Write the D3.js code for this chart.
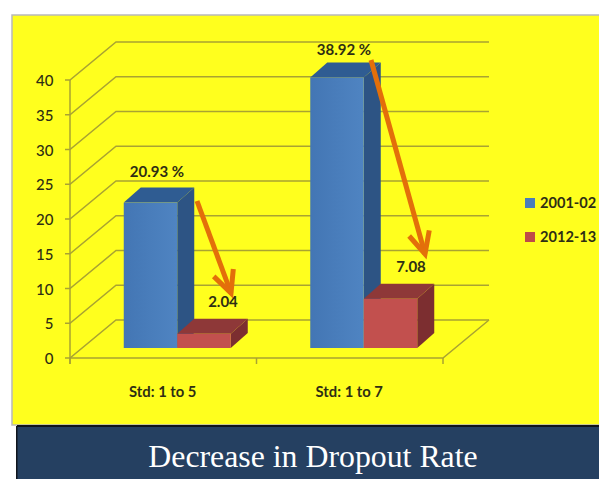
<!DOCTYPE html>
<html>
<head>
<meta charset="utf-8">
<script src="https://cdn.jsdelivr.net/npm/d3@7"></script>
<style>
html,body{margin:0;padding:0;background:#fff;}
svg{display:block;}
</style>
</head>
<body>
<svg id="chart" width="599" height="479"></svg>
<script>
const categories = ["Std: 1 to 5", "Std: 1 to 7"];
const seriesNames = ["2001-02", "2012-13"];
const values2001 = [20.93, 38.92];
const values2012 = [2.04, 7.08];
const labels2001 = ["20.93 %", "38.92 %"];
const labels2012 = ["2.04", "7.08"];
const yTicks = [0, 5, 10, 15, 20, 25, 30, 35, 40];
const titleText = "Decrease in Dropout Rate";

const svg = d3.select("#chart");
const defs = svg.append("defs");
const labelFont = "Lato, 'Open Sans', sans-serif";
const inkColor = "#2e2e14";
const gridColor = "#a9a332";
const frontColors = ["url(#blueFront)", "#c2504e"];
const topColors = ["#2f5c92", "#8e3838"];
const sideColors = ["#2d5484", "#7c2e30"];
const legendColors = ["#4a7ebb", "#be4b48"];

const blueGrad = defs.append("linearGradient").attr("id", "blueFront");
blueGrad.append("stop").attr("offset", "0%").attr("stop-color", "#4376b4");
blueGrad.append("stop").attr("offset", "100%").attr("stop-color", "#4f84c2");

// Panel and caption band
svg.append("rect").attr("x", 12).attr("y", 15).attr("width", 588).attr("height", 410)
  .attr("fill", "#ffff1e").attr("stroke", "#b9b9b9").attr("stroke-width", 1.5);
svg.append("rect").attr("x", 17).attr("y", 426).attr("width", 582).attr("height", 53)
  .attr("fill", "#254061");
svg.append("line").attr("x1", 17).attr("x2", 599).attr("y1", 426).attr("y2", 426)
  .attr("stroke", "#10141c").attr("stroke-width", 2);
svg.append("rect").attr("x", 16).attr("y", 426).attr("width", 1.5).attr("height", 53).attr("fill", "#10141c");
svg.append("text").attr("x", 313).attr("y", 467).attr("text-anchor", "middle")
  .attr("font-family", "'Liberation Serif', serif").attr("font-size", 31.8).attr("fill", "#fff")
  .text(titleText);

// Scales: y maps values on the front wall edge, depth shifts them to the back wall
const y = d3.scaleLinear().domain([0, 40]).range([358, 80]);
const x = d3.scaleBand().domain(categories).range([70, 443]);
const wallDx = 46, wallDy = -38;
const barDx = 17, barDy = -15, barLift = 10, barWidth = 53.5, barShift = 14;

// Side and back walls: one gridline per tick
const grid = svg.append("g").attr("fill", "none").attr("stroke", gridColor).attr("stroke-width", 1.5);
yTicks.forEach(t => {
  grid.append("path").attr("d", d3.line()([
    [70 - 5, y(t)], [70, y(t)], [70 + wallDx, y(t) + wallDy], [489, y(t) + wallDy]
  ]));
});
grid.append("line").attr("x1", 70).attr("x2", 70).attr("y1", y(40)).attr("y2", y(0) + 6);
// Floor edges
grid.append("path").attr("d", d3.line()([
  [70, y(0)], [443, y(0)], [443 + wallDx, y(0) + wallDy]
]));
[70, x(categories[1]), 443].forEach(px => {
  grid.append("line").attr("x1", px).attr("x2", px).attr("y1", y(0)).attr("y2", y(0) + 6);
});

// Value axis labels
svg.append("g").selectAll("text").data(yTicks).join("text")
  .attr("x", 53.5).attr("y", d => y(d) + 6).attr("text-anchor", "end")
  .attr("font-family", labelFont).attr("font-weight", 500).attr("font-size", 15).attr("fill", inkColor)
  .text(d => d);

// Category labels
svg.append("g").selectAll("text").data(categories).join("text")
  .attr("x", d => x(d) + x.bandwidth() / 2 - 0.5).attr("y", 397).attr("text-anchor", "middle")
  .attr("font-family", labelFont).attr("font-weight", 700).attr("font-size", 14.8).attr("fill", inkColor)
  .text(d => d);

// Extruded bars: side, top, then the front face
function drawBar(group, left, value, s) {
  const top = y(value) - barLift, base = y(0) - barLift, right = left + barWidth;
  group.append("polygon").attr("fill", sideColors[s]).attr("points", [
    [right, top], [right + barDx, top + barDy], [right + barDx, base + barDy], [right, base]
  ].join(" "));
  group.append("polygon").attr("fill", topColors[s]).attr("points", [
    [left, top], [left + barDx, top + barDy], [right + barDx, top + barDy], [right, top]
  ].join(" "));
  group.append("rect").attr("x", left).attr("y", top).attr("width", barWidth).attr("height", base - top)
    .attr("fill", frontColors[s]);
}
const bars = svg.append("g");
categories.forEach((c, i) => {
  const mid = x(c) + x.bandwidth() / 2 + barShift;
  drawBar(bars, mid - barWidth, values2001[i], 0);
  drawBar(bars, mid, values2012[i], 1);
});

// Arrows from each early-period bar down to its later value
const arrowStart = [[197, 201], [371, 60]];
const arrowEnd = [[231, 293], [425, 254]];
const arrows = svg.append("g").attr("fill", "none").attr("stroke", "#e36f0a")
  .attr("stroke-width", 5).attr("stroke-linejoin", "miter");
arrowStart.forEach((s, i) => {
  const e = arrowEnd[i];
  const a = Math.atan2(e[1] - s[1], e[0] - s[0]);
  const barb = (da) => [e[0] - 24 * Math.cos(a + da), e[1] - 24 * Math.sin(a + da)];
  arrows.append("line").attr("x1", s[0]).attr("y1", s[1]).attr("x2", e[0]).attr("y2", e[1]);
  arrows.append("path").attr("d", d3.line()([barb(0.45), e, barb(-0.45)]));
});

// Data labels
const labelGroup = svg.append("g").attr("font-family", labelFont).attr("font-weight", 700)
  .attr("font-size", 15).attr("fill", inkColor).attr("text-anchor", "middle");
const labelPos2001 = [[157, 177], [344, 55]];
const labelPos2012 = [[223, 307], [411, 272]];
labels2001.forEach((t, i) => labelGroup.append("text").attr("x", labelPos2001[i][0]).attr("y", labelPos2001[i][1]).text(t));
labels2012.forEach((t, i) => labelGroup.append("text").attr("x", labelPos2012[i][0]).attr("y", labelPos2012[i][1]).text(t));

// Legend
const legend = svg.append("g");
seriesNames.forEach((n, i) => {
  const ly = 203 + i * 34;
  legend.append("rect").attr("x", 525).attr("y", ly - 5).attr("width", 10).attr("height", 10).attr("fill", legendColors[i]);
  legend.append("text").attr("x", 540).attr("y", ly + 5).attr("font-family", labelFont)
    .attr("font-weight", 700).attr("font-size", 14.6).attr("fill", inkColor).text(n);
});
</script>
</body>
</html>
